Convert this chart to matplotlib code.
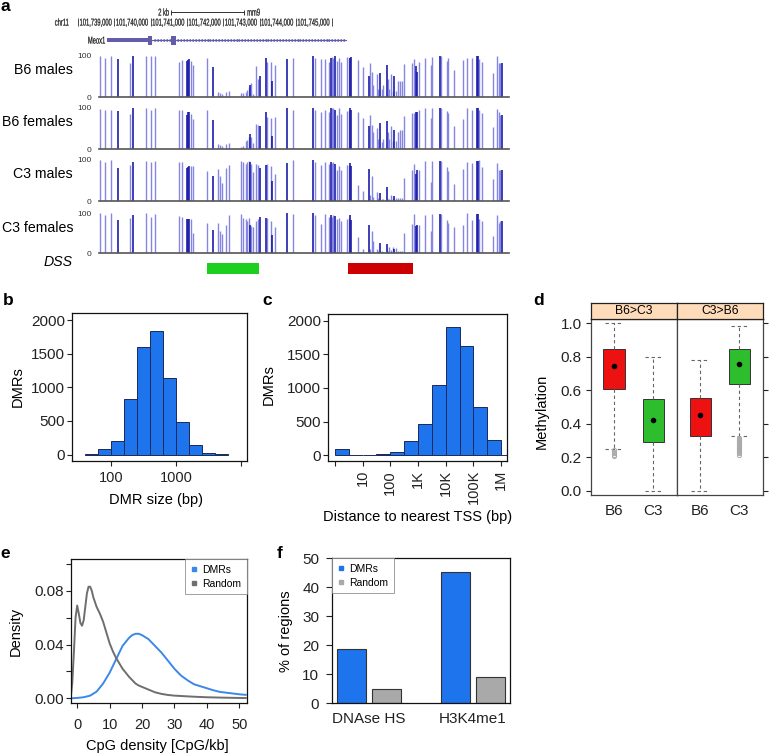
import numpy as np
import matplotlib.pyplot as plt
from matplotlib.lines import Line2D
from matplotlib.textpath import TextPath
from matplotlib.patches import PathPatch
from matplotlib.transforms import Affine2D
from matplotlib.font_manager import FontProperties

W, H = 769, 754
plt.rcParams['font.family'] = ['Liberation Sans', 'DejaVu Sans']
plt.rcParams['axes.linewidth'] = 0.9

# ---------------- panel a : methylation tracks ----------------
track_names = ['B6 males', 'B6 females', 'C3 males', 'C3 females']
cpg_pos = [
    0.0, 5.0, 11.0, 18.3, 30.0, 32.7, 46.0, 50.7, 55.0, 79.0,
    82.0, 87.3, 88.3, 89.3, 90.7, 93.3, 106.7, 112.7, 118.3, 120.0,
    121.7, 125.7, 129.3, 141.0, 143.3, 145.7, 146.7, 148.7, 150.0, 151.3,
    153.3, 156.0, 157.7, 160.0, 166.0, 167.0, 171.3, 172.3, 174.7, 186.7,
    193.3, 213.3, 215.0, 220.7, 225.0, 228.7, 230.7, 231.7, 232.7, 235.0,
    237.3, 239.3, 241.3, 246.7, 248.7, 250.0, 251.3,
    257.7, 262.7, 268.7, 270.0, 271.7, 273.3, 276.7, 278.3, 280.0, 281.7,
    283.3, 286.7, 287.7, 289.3, 291.0, 292.7, 294.3, 295.7, 297.7, 300.0,
    302.0, 304.0,
    312.3, 314.3, 316.0, 317.3, 318.7, 325.0, 330.7, 332.0, 340.0, 340.7,
    346.7, 348.3, 354.0, 362.7, 367.3, 371.7, 376.7, 377.7, 378.7, 382.0,
    392.7, 397.3, 398.7, 400.0, 401.7]
meth_b6_m = [
    100, 95, 100, 92, 82, 100, 100, 100, 100, 85,
    90, 88, 90, 92, 88, 78, 95, 72, 12, 10,
    8, 13, 15, 10, 10, 12, 18, 25, 30, 35,
    8, 75, 45, 50, 95, 85, 85, 40, 78, 92,
    95, 100, 95, 92, 92, 85, 95, 98, 95, 100,
    88, 95, 85, 98, 95, 95, 98,
    90, 72, 50, 82, 60, 30, 55, 20, 58, 20,
    30, 78, 45, 20, 55, 15, 50, 15, 40, 40,
    38, 80,
    82, 93, 75, 60, 85, 96, 77, 98, 100, 100,
    89, 96, 67, 91, 96, 96, 100, 100, 93, 85,
    59, 99, 83, 83, 83]
meth_b6_f = [
    97, 95, 95, 92, 85, 98, 98, 95, 98, 95,
    95, 82, 90, 90, 85, 72, 95, 70, 12, 10,
    8, 12, 14, 5, 8, 20, 22, 28, 35, 30,
    15, 60, 58, 55, 90, 78, 75, 32, 78, 98,
    95, 100, 95, 88, 95, 88, 98, 100, 100, 95,
    82, 98, 85, 92, 95, 98, 95,
    88, 75, 55, 82, 58, 40, 50, 25, 62, 18,
    25, 68, 40, 25, 55, 20, 45, 20, 40, 45,
    45, 80,
    86, 87, 89, 90, 95, 100, 74, 100, 98, 98,
    91, 87, 55, 72, 98, 94, 98, 98, 94, 87,
    52, 96, 90, 82, 82]
meth_c3_m = [
    100, 95, 100, 80, 88, 95, 98, 95, 98, 95,
    95, 80, 82, 85, 85, 85, 72, 60, 78, 60,
    45, 80, 88, 98, 95, 90, 95, 98, 95, 90,
    70, 90, 88, 80, 88, 90, 85, 50, 65, 92,
    100, 100, 95, 88, 95, 90, 95, 92, 95, 90,
    75, 85, 75, 88, 88, 92, 85,
    38, 25, 78, 15, 60, 10, 22, 8, 20, 5,
    5, 35, 5, 5, 15, 8, 12, 8, 8, 8,
    8, 55,
    76, 90, 66, 76, 76, 98, 47, 98, 98, 98,
    84, 74, 41, 77, 96, 92, 98, 98, 100, 84,
    54, 93, 76, 76, 76]
meth_c3_f = [
    100, 95, 100, 82, 88, 95, 100, 90, 97, 92,
    90, 85, 85, 85, 85, 50, 75, 58, 75, 55,
    48, 70, 95, 98, 88, 85, 80, 88, 70, 68,
    65, 80, 85, 90, 88, 88, 80, 45, 65, 100,
    98, 100, 95, 72, 98, 90, 95, 90, 95, 92,
    85, 88, 80, 85, 88, 95, 82,
    40, 10, 70, 10, 55, 30, 10, 5, 25, 5,
    3, 22, 5, 15, 8, 15, 10, 12, 5, 5,
    5, 50,
    72, 98, 67, 71, 71, 96, 54, 98, 98, 98,
    83, 75, 65, 71, 100, 83, 98, 98, 85, 81,
    43, 94, 75, 81, 81]
cpg_dark = [18.3, 32.7, 87.3, 88.3, 89.3, 112.7, 150.0, 160.0, 166.0, 172.3,
            186.7, 213.3, 230.7, 235.0, 250.0, 251.3, 268.7, 280.0, 286.7,
            294.3, 316.0, 317.3, 340.0, 376.7, 377.7, 401.7]
dmr_start = [107, 248]
dmr_end = [159, 313]
dmr_cols = ['#1fcf1f', '#cc0000']

# UCSC header
coord_ticks = [101739000, 101740000, 101741000, 101742000, 101743000,
               101744000, 101745000, 101746000]
gene_utr = (101739800, 101740930)
gene_exons = [(101740930, 101741040), (101741560, 101741700)]
gene_span = (101739800, 101746380)
scale_bar = (101741560, 101743560)

# ---------------- panel b / c ----------------
size_bins = [1.6, 1.8, 2.0, 2.2, 2.4, 2.6, 2.8, 3.0, 3.2, 3.4, 3.6, 3.8]
size_counts = [5, 85, 203, 827, 1604, 1837, 1144, 480, 144, 30, 3]
tss_bins = [0, 0.5, 1, 1.5, 2, 2.5, 3, 3.5, 4, 4.5, 5, 5.5, 6, 6.5]
tss_counts = [94, 2, 5, 15, 45, 213, 465, 1045, 1906, 1629, 718, 223, 10]
tss_ticklabels = ['', '10', '100', '1K', '10K', '100K', '1M']

# ---------------- panel d ----------------
bw_groups = ['B6>C3', 'C3>B6']
bw_strains = ['B6', 'C3']
bw_lo = [[0.25, 0.0], [0.0, 0.328]]
bw_q1 = [[0.607, 0.294], [0.330, 0.639]]
bw_med = [[0.743, 0.425], [0.453, 0.759]]
bw_q3 = [[0.846, 0.551], [0.555, 0.846]]
bw_hi = [[1.0, 0.80], [0.78, 0.986]]
bw_out = [[[0.243, 0.235, 0.226, 0.216, 0.207], []],
          [[], [0.318, 0.312, 0.306, 0.300, 0.294, 0.288, 0.282, 0.276, 0.270,
                0.264, 0.258, 0.252, 0.246, 0.240, 0.232, 0.224, 0.213]]]

# ---------------- panel e ----------------
rand_x = [-2, -1.5, -1, -0.5, 0, 0.5, 1, 1.5, 2, 2.5, 3, 3.5, 4, 4.5, 5, 6, 7,
          8, 9, 10, 11, 12, 13, 14, 15, 16, 17, 18, 19, 20, 22, 24, 26, 28,
          30, 33, 36, 40, 45, 52]
rand_y = [0.0, 0.012, 0.035, 0.060, 0.069, 0.063, 0.056, 0.054, 0.058, 0.068,
          0.078, 0.083, 0.083, 0.080, 0.075, 0.068, 0.063, 0.057, 0.049, 0.041,
          0.035, 0.030, 0.026, 0.022, 0.019, 0.016, 0.0135, 0.011, 0.0095,
          0.0085, 0.0065, 0.0045, 0.0033, 0.0025, 0.002, 0.0016, 0.0012,
          0.0008, 0.0005, 0.0002]
dmr_x = [-2, 0, 2, 4, 6, 8, 10, 12, 14, 16, 17, 18, 19, 20, 22, 24, 26, 28, 30,
         32, 34, 36, 38, 40, 42, 44, 46, 48, 50, 52]
dmr_y = [0.0, 0.0003, 0.0008, 0.002, 0.005, 0.011, 0.019, 0.029, 0.039, 0.045,
         0.047, 0.048, 0.048, 0.047, 0.044, 0.039, 0.034, 0.028, 0.022, 0.017,
         0.0135, 0.0105, 0.009, 0.0075, 0.006, 0.0048, 0.0042, 0.0036, 0.003,
         0.0026]

# ---------------- panel f ----------------
mark_names = ['DNAse HS', 'H3K4me1']
pct_dmr = [18.7, 45.3]
pct_random = [5.0, 9.0]

BLUE = '#1d74ec'
EDGE = '#1a2a5a'
LINE_BLUE = '#3b88e8'
GREY_LINE = '#6e6e6e'

fig = plt.figure(figsize=(W / 100, H / 100), dpi=100)


def add_ax(left, top, right, bottom):
    return fig.add_axes([left / W, 1 - bottom / H, (right - left) / W, (bottom - top) / H])


def ftext(x, y, s, **kw):
    return fig.text(x / W, 1 - y / H, s, **kw)


def style(ax, xpad=4, ypad=1.5):
    ax.tick_params(direction='out', length=3.5, width=0.8, colors='#222222')
    ax.tick_params(axis='y', labelsize=11, pad=ypad)
    ax.tick_params(axis='x', labelsize=10.5, pad=xpad)
    for s in ax.spines.values():
        s.set_color('#111111')


# panel labels
for lab, x, y in [('a', 0.5, 11), ('b', 3, 305), ('c', 262.5, 305), ('d', 533, 305),
                  ('e', 0.5, 558), ('f', 277, 558)]:
    ftext(x, y, lab, fontsize=12.5, fontweight='bold', ha='left', va='baseline')

# header (UCSC style, condensed text drawn as paths)
HX0, HX1 = 73, 350
BP0, BP1 = 101738862, 101746493
BP_PER_PX = (BP1 - BP0) / (HX1 - HX0)
hx = add_ax(HX0, 0, HX1, 48)
hx.set_xlim(BP0, BP1)
hx.set_ylim(48, 0)
hx.axis('off')
hprop = FontProperties(family='Liberation Sans')


def px2bp(px):
    return BP0 + (px - HX0) * BP_PER_PX


def squeezed(x, y, s, ha='left', size=10.0, squeeze=0.58, color='#1a1a1a'):
    tp = TextPath((0, 0), s, size=size, prop=hprop)
    bb = tp.get_extents()
    sx = squeeze * BP_PER_PX
    w = bb.width * sx
    x0 = {'left': x, 'right': x - w, 'center': x - w / 2}[ha] - bb.x0 * sx
    tr = Affine2D().scale(sx, -1).translate(x0, y + 0.36 * size)
    hx.add_patch(PathPatch(tr.transform_path(tp), facecolor=color, edgecolor=color,
                           lw=0.15, clip_on=False))


gene_col = '#625caa'
hx.plot(scale_bar, [12, 12], color='#333333', lw=0.7)
hx.vlines(scale_bar, 9.5, 14.5, color='#333333', lw=0.7)
squeezed(scale_bar[0] - 2 * BP_PER_PX, 12, '2 kb', ha='right')
squeezed(scale_bar[1] + 4 * BP_PER_PX, 12, 'mm9', ha='left')
hx.vlines(coord_ticks, 18, 26, color='#333333', lw=0.6)
for t in coord_ticks[:-1]:
    squeezed(t + 2 * BP_PER_PX, 22, f'{t:,}', ha='left')
squeezed(px2bp(55), 22, 'chr11', ha='left')
squeezed(px2bp(105), 40, 'Meox1', ha='right')
hx.plot(gene_span, [40, 40], color=gene_col, lw=0.8)
chev = np.arange(gene_exons[0][1] + 60, gene_span[1], 80)
chev = chev[(chev < gene_exons[1][0] - 20) | (chev > gene_exons[1][1] + 20)]
hx.plot(chev, np.full(len(chev), 40), ls='none', marker='<', ms=1.8, mew=0.4,
        mfc='none', mec=gene_col)
hx.fill_between(gene_utr, 37.6, 42.4, color=gene_col, lw=0)
for s, e in gene_exons:
    hx.fill_between((s, e), 35.5, 44.5, color=gene_col, lw=0)

# tracks
track_vals = [meth_b6_m, meth_b6_f, meth_c3_m, meth_c3_f]
track_top = [56, 107.5, 160, 213]
track_base = [97, 149, 201, 253]
label_y = [70.5, 122.5, 174, 227.5]
pos = np.array(cpg_pos)
dark = np.isin(pos, cpg_dark)
for name, vals, top, base, ly in zip(track_names, track_vals, track_top, track_base, label_y):
    ax = add_ax(99, top, 509, base)
    v = np.array(vals)
    ax.vlines(pos[~dark], 0, v[~dark], color='#8585e2', lw=1.0)
    ax.vlines(pos[dark], 0, v[dark], color='#1c1cab', lw=1.2)
    ax.axhline(0, color='#555555', lw=1.2, clip_on=False)
    ax.set_xlim(-1, 409)
    ax.set_ylim(0, 100)
    for s in ax.spines.values():
        s.set_visible(False)
    ax.set_xticks([])
    ax.set_yticks([0, 100])
    ax.set_yticklabels(['0', '100'])
    ax.tick_params(axis='y', length=0, labelsize=6, pad=5.5, colors='#333333')
    ax.patch.set_alpha(0)
    ftext(73, ly, name, ha='right', va='center', fontsize=10.2)

ax = add_ax(99, 263, 509, 274)
ax.barh([0] * len(dmr_start), np.array(dmr_end) - np.array(dmr_start), left=dmr_start,
        height=1, color=dmr_cols)
ax.set_xlim(-1, 409)
ax.set_ylim(-0.5, 0.5)
ax.axis('off')
ftext(73, 262, 'DSS', ha='right', va='center', fontsize=10.2, style='italic')

# panel b
ax = add_ax(72, 313.3, 246.7, 460.7)
edges = 10 ** np.array(size_bins)
ax.bar(edges[:-1], size_counts, width=np.diff(edges), align='edge', color=BLUE,
       edgecolor=EDGE, lw=0.7)
ax.set_xscale('log')
ax.set_xlim(24.9, 12400)
ax.set_ylim(-90, 2100)
ax.set_yticks([0, 500, 1000, 1500, 2000])
ax.set_xticks([100, 1000, 10000])
ax.set_xticklabels(['100', '1000', ''])
ax.minorticks_off()
style(ax)
ftext(17.5, 387, 'DMRs', rotation=90, ha='center', va='center', fontsize=10.5)
ftext(156, 500, 'DMR size (bp)', ha='center', va='center', fontsize=10.5)

# panel c
ax = add_ax(327.7, 314.3, 506.7, 461)
ax.bar(tss_bins[:-1], tss_counts, width=np.diff(tss_bins), align='edge', color=BLUE,
       edgecolor=EDGE, lw=0.7)
ax.set_xlim(-0.26, 6.2)
ax.set_ylim(-85, 2095)
ax.set_yticks([0, 500, 1000, 1500, 2000])
ax.set_xticks(range(len(tss_ticklabels)))
ax.set_xticklabels(tss_ticklabels, rotation=90)
style(ax, xpad=3)
ftext(268.5, 385, 'DMRs', rotation=90, ha='center', va='center', fontsize=10.5)
ftext(418, 516.7, 'Distance to nearest TSS (bp)', ha='center', va='center', fontsize=10.5)

# panel d
d_edges = [590.7, 676.8, 763]
box_cols = ['#ee1111', '#2dbd2d']
for g in range(2):
    ax = add_ax(d_edges[g], 319.3, d_edges[g + 1], 495.3)
    stats = [dict(med=bw_med[g][s], q1=bw_q1[g][s], q3=bw_q3[g][s], whislo=bw_lo[g][s],
                  whishi=bw_hi[g][s], fliers=bw_out[g][s]) for s in range(2)]
    res = ax.bxp(stats, positions=[1, 2], widths=0.55, capwidths=0.45, patch_artist=True,
                 boxprops=dict(lw=0.7, edgecolor='#333333'),
                 whiskerprops=dict(ls=(0, (3, 2.5)), color='#666666', lw=0.8),
                 capprops=dict(ls=(0, (3, 2.5)), color='#666666', lw=0.8),
                 medianprops=dict(lw=0),
                 flierprops=dict(marker='o', mfc='none', mec='#aaaaaa', ms=3, mew=0.7))
    for patch, c in zip(res['boxes'], box_cols):
        patch.set_facecolor(c)
    ax.plot([1, 2], bw_med[g], 'o', color='black', ms=3)
    ax.set_xlim(0.4, 2.6)
    ax.set_ylim(-0.026, 1.024)
    ax.set_xticks([1, 2])
    ax.set_xticklabels(bw_strains)
    ax.set_yticks([0, 0.2, 0.4, 0.6, 0.8, 1.0])
    style(ax, xpad=6, ypad=3)
    ax.tick_params(axis='x', length=0, labelsize=11)
    for s in ax.spines.values():
        s.set_color('#444444')
    if g == 0:
        ax.tick_params(axis='y', left=True, right=False)
        ax.set_yticklabels(['0.0', '0.2', '0.4', '0.6', '0.8', '1.0'])
    else:
        ax.tick_params(axis='y', left=False, right=True, labelleft=False)
    sx = add_ax(d_edges[g], 302.7, d_edges[g + 1], 319.3)
    sx.set_facecolor('#ffdcb9')
    sx.set_xticks([])
    sx.set_yticks([])
    sx.text(0.5, 0.48, bw_groups[g], ha='center', va='center', fontsize=8.7,
            transform=sx.transAxes)
    for s in sx.spines.values():
        s.set_color('#222222')
ftext(541.7, 411.7, 'Methylation', rotation=90, ha='center', va='center', fontsize=10.5)

# panel e
ax = add_ax(70.7, 559.3, 246.7, 703.3)
ax.plot(dmr_x, dmr_y, color=LINE_BLUE, lw=1.4)
ax.plot(rand_x, rand_y, color=GREY_LINE, lw=1.4)
ax.set_xlim(-2, 52.3)
ax.set_ylim(-0.0037, 0.1034)
ax.set_xticks([0, 10, 20, 30, 40, 50])
ax.set_yticks([0, 0.02, 0.04, 0.06, 0.08, 0.10])
ax.set_yticklabels(['0.00', '', '0.04', '', '0.08', ''])
style(ax, xpad=7)
handles = [Line2D([], [], ls='none', marker='s', ms=3.5, color=LINE_BLUE),
           Line2D([], [], ls='none', marker='s', ms=3.5, color=GREY_LINE)]
leg = ax.legend(handles, ['DMRs', 'Random'], loc='upper right', borderaxespad=0,
                fontsize=7.5, handlelength=0.6, handletextpad=0.5, fancybox=False,
                borderpad=0.55, labelspacing=0.35)
leg.get_frame().set_edgecolor('#888888')
leg.get_frame().set_linewidth(0.7)
ftext(16, 631.7, 'Density', rotation=90, ha='center', va='center', fontsize=10.5)
ftext(157, 746, 'CpG density [CpG/kb]', ha='center', va='center', fontsize=10.5)

# panel f
ax = add_ax(331.7, 558.3, 510, 703.3)
gx = np.arange(len(mark_names)) * 3.58
ax.bar(gx, pct_dmr, width=1, color=BLUE, edgecolor='#333333', lw=0.8)
ax.bar(gx + 1.2, pct_random, width=1, color='#a9a9a9', edgecolor='#333333', lw=0.8)
ax.set_xlim(-0.69, 5.45)
ax.set_ylim(0, 50)
ax.set_yticks([0, 10, 20, 30, 40, 50])
ax.set_xticks(gx + 0.6)
ax.set_xticklabels(mark_names)
style(ax, xpad=6, ypad=4.5)
ax.tick_params(axis='y', length=4.5)
ax.tick_params(axis='x', length=0, labelsize=11)
handles = [Line2D([], [], ls='none', marker='s', ms=3.5, color=BLUE),
           Line2D([], [], ls='none', marker='s', ms=3.5, color='#a9a9a9')]
leg = ax.legend(handles, ['DMRs', 'Random'], loc='upper left', borderaxespad=0,
                fontsize=7.5, handlelength=0.6, handletextpad=0.5, fancybox=False,
                borderpad=0.55, labelspacing=0.35)
leg.get_frame().set_edgecolor('#888888')
leg.get_frame().set_linewidth(0.7)
ftext(285.8, 630.8, '% of regions', rotation=90, ha='center', va='center', fontsize=10.5)

fig.savefig('out.png', dpi=100)
